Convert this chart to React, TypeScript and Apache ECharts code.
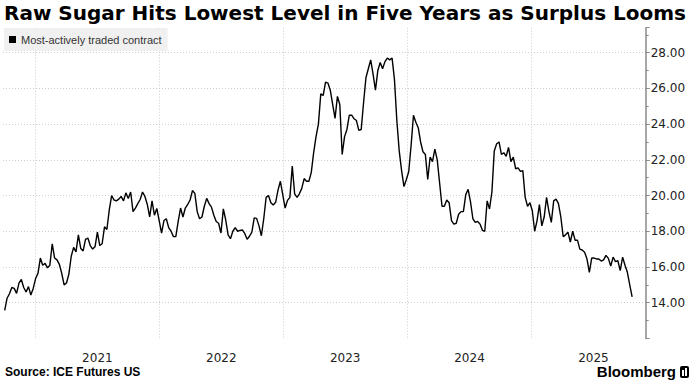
import React, { useEffect, useRef } from "react";
import * as echarts from "echarts";

const TITLE = "Raw Sugar Hits Lowest Level in Five Years as Surplus Looms";
const SOURCE = "Source: ICE Futures US";
const BRAND = "Bloomberg";
const SERIES_NAME = "Most-actively traded contract";

// Weekly closes, first one on 2020-10-02
const START = { y: 2020, m: 9, d: 2 };
const STEP_DAYS = 7;
const prices: number[] = [
  13.57, 14.25, 14.5, 14.85, 14.8, 14.52, 15.1, 15.3, 14.85, 14.6,
  14.9, 14.43, 14.8, 15.35, 15.64, 16.5, 16.1, 16.2, 15.95, 16.1,
  17.3, 16.5, 16.4, 16.15, 15.64, 15.0, 15.1, 15.6, 16.6, 17.1,
  16.85, 17.8, 17.04, 16.9, 17.55, 17.62, 17.2, 17.0, 17.13, 17.95,
  17.2, 17.3, 18.25, 18.1, 19.2, 20.0, 19.75, 19.7, 19.8, 19.95,
  19.7, 20.15, 19.84, 20.2, 19.1,
  19.3, 19.55, 19.78, 20.2, 19.95, 19.5, 18.8, 19.7, 18.9, 19.28,
  18.6, 17.9, 18.6, 18.7, 18.2, 18.0, 17.7, 17.7, 18.55, 19.3,
  18.8, 19.3, 19.5, 19.75, 20.28, 20.12, 19.1, 18.7, 18.8, 19.4,
  19.84, 19.55, 19.35, 18.9, 18.55, 18.45, 17.9, 19.25, 18.63, 17.8,
  17.58, 18.0, 18.2, 18.0, 18.05, 18.07, 17.88, 17.55, 17.72, 17.95,
  18.75, 18.72, 18.3, 17.75, 18.7, 19.9, 20.0, 19.6, 19.47, 19.62,
  20.3, 20.8, 20.05, 19.3, 19.73, 19.9, 21.65, 20.1, 19.9, 20.1,
  20.4, 20.95, 20.8, 20.8, 21.3, 22.4, 23.3, 24.0, 25.7, 25.6,
  26.35, 26.3, 25.9, 25.1, 24.32, 25.55, 25.1, 22.3, 23.3, 23.7,
  24.5, 24.5, 24.3, 24.2, 23.65, 23.7, 25.2, 26.6, 27.1, 27.6,
  26.8, 25.9, 27.0,
  27.45, 27.1, 27.5, 27.7, 27.6, 27.7, 26.5, 24.2, 22.5, 21.4,
  20.5, 20.9, 21.33, 22.8, 24.5,
  24.1, 23.8, 23.0, 22.45, 22.3, 20.9, 22.15, 21.9, 22.6, 22.0,
  20.7, 19.4, 19.4, 19.75, 19.6, 18.6, 18.4, 18.45, 18.95, 19.1,
  19.1, 20.05, 20.35, 19.65, 18.7, 18.5, 18.55, 18.4, 18.05, 18.0,
  19.7, 19.25, 20.2, 22.5, 22.9, 23.0, 22.3, 22.4, 22.2, 22.7,
  21.9, 22.15, 21.5, 21.55, 21.35, 21.4, 19.9, 19.4, 19.6, 19.15,
  18.0, 18.6, 19.5, 18.3, 18.8, 19.9, 19.1, 18.5, 19.7, 19.8,
  19.55, 18.8, 17.7, 17.8, 17.95, 17.4, 18.0, 17.5, 17.5, 17.0,
  16.95, 16.83, 16.45, 15.7, 16.5, 16.5, 16.45, 16.45, 16.33, 16.4,
  16.65, 16.48, 16.05, 16.55, 16.3, 16.35, 15.8, 16.55, 16.1, 15.7,
  15.0, 14.33,
];

const years = [2021, 2022, 2023, 2024, 2025];
const X_MIN = { y: 2020, m: 8, d: 27 };
const X_MAX = { y: 2025, m: 11, d: 3 };
const Y_MIN = 12;
const Y_MAX = 29.4;
const Y_STEP = 2;

const DAY = 86400000;

export default function App() {
  const ref = useRef<HTMLDivElement>(null);
  useEffect(() => {
    if (!ref.current) return;
    const chart = echarts.init(ref.current, undefined, { renderer: "svg" });
    const t0 = Date.UTC(START.y, START.m, START.d);
    const data = prices.map((v, i) => [t0 + i * STEP_DAYS * DAY, v]);
    const yearStarts = years.map((y) => Date.UTC(y, 0, 1));
    const midYears = years.map((y) => Date.UTC(y, 6, 2));
    const grey = "#8a8a8a";
    const gridColor = "#cdcdcd";
    chart.setOption({
      animation: false,
      backgroundColor: "#ffffff",
      title: [
        {
          text: TITLE,
          left: 4,
          top: 3,
          padding: 0,
          textStyle: { fontFamily: "DejaVu Sans", fontWeight: "bold", fontSize: 20, color: "#000" },
        },
        {
          text: SOURCE,
          left: 5,
          top: 366,
          padding: 0,
          textStyle: { fontFamily: "Liberation Sans", fontWeight: "bold", fontSize: 12, color: "#000" },
        },
        {
          text: BRAND,
          right: 18,
          top: 364,
          padding: 0,
          textStyle: { fontFamily: "Liberation Sans", fontWeight: "bold", fontSize: 15, color: "#000" },
        },
      ],
      graphic: [
        { type: "rect", shape: { x: 680, y: 366, width: 9, height: 12, r: 2 }, style: { fill: "#000" } },
        { type: "rect", shape: { x: 682, y: 370, width: 2, height: 6 }, style: { fill: "#fff" } },
        { type: "rect", shape: { x: 685, y: 368, width: 2, height: 8 }, style: { fill: "#fff" } },
      ],
      legend: {
        left: 4,
        top: 28,
        orient: "horizontal",
        backgroundColor: "#f0f0f0",
        padding: [6, 6, 6, 5],
        icon: "rect",
        itemWidth: 7,
        itemHeight: 7,
        itemGap: 4,
        selectedMode: false,
        textStyle: { fontFamily: "Liberation Sans", fontSize: 11, color: "#333" },
        data: [{ name: SERIES_NAME }],
      },
      grid: {
        left: 3,
        right: 48.3,
        top: 27.7,
        bottom: 53.6,
        containLabel: false,
        outerBoundsMode: "none",
      },
      xAxis: {
        type: "value",
        min: Date.UTC(X_MIN.y, X_MIN.m, X_MIN.d),
        max: Date.UTC(X_MAX.y, X_MAX.m, X_MAX.d),
        axisLine: { show: false },
        axisTick: { show: false, customValues: yearStarts },
        axisLabel: {
          customValues: midYears,
          formatter: (v: number) => String(new Date(v).getUTCFullYear()),
          margin: 14,
          fontFamily: "DejaVu Sans",
          fontSize: 12,
          color: "#222",
        },
        splitLine: { show: true, lineStyle: { color: gridColor, type: [1, 2], width: 1 } },
      },
      yAxis: {
        type: "value",
        position: "right",
        min: Y_MIN,
        max: Y_MAX,
        interval: Y_STEP,
        axisLine: { show: true, lineStyle: { color: grey, width: 1.5 } },
        axisTick: { show: true, inside: false, length: 4, lineStyle: { color: grey, width: 1 } },
        minorTick: { show: true, splitNumber: 2, length: 3, lineStyle: { color: grey, width: 1 } },
        axisLabel: {
          formatter: (v: number) => v.toFixed(2),
          showMinLabel: false,
          showMaxLabel: false,
          margin: 5,
          fontFamily: "DejaVu Sans",
          fontSize: 12,
          color: "#222",
        },
        splitLine: {
          show: true,
          showMinLine: false,
          showMaxLine: false,
          lineStyle: { color: gridColor, type: [1, 2], width: 1 },
        },
      },
      series: [
        {
          name: SERIES_NAME,
          type: "line",
          data,
          showSymbol: false,
          symbol: "none",
          itemStyle: { color: "#000" },
          lineStyle: { color: "#000", width: 1.4 },
          z: 5,
        },
      ],
    });
    return () => chart.dispose();
  }, []);
  return (
    <div
      ref={ref}
      style={{ position: "absolute", left: 0, top: 0, width: 694, height: 392, background: "#fff" }}
    />
  );
}
